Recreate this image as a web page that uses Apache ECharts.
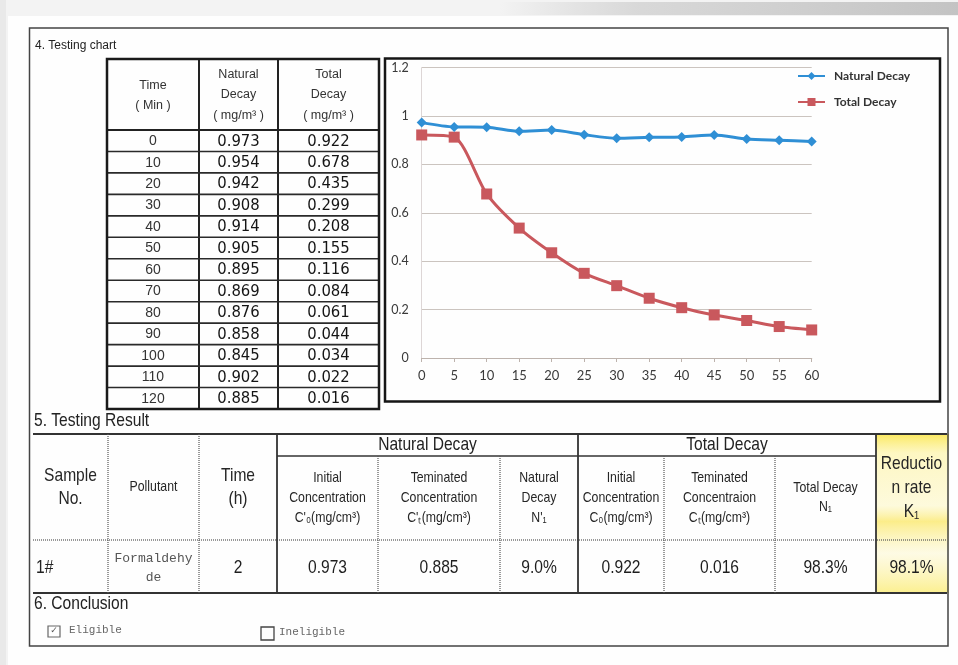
<!DOCTYPE html>
<html><head><meta charset="utf-8">
<script src="https://cdn.jsdelivr.net/npm/echarts@6/dist/echarts.min.js"></script>
<style>html,body{margin:0;padding:0;background:#f4f4f4}#c{width:958px;height:665px}</style>
</head><body><div id="c"></div><script>
// ---- chart data ----
const chartTimes = ['0','5','10','15','20','25','30','35','40','45','50','55','60'];
const chartNatural = [0.973,0.955,0.954,0.937,0.942,0.923,0.908,0.912,0.914,0.922,0.905,0.900,0.895];
const chartTotal = [0.922,0.913,0.678,0.537,0.435,0.350,0.299,0.247,0.208,0.178,0.155,0.130,0.116];
const seriesNames = ['Natural Decay','Total Decay'];
// ---- left table data ----
const tableTimes = ['0','10','20','30','40','50','60','70','80','90','100','110','120'];
const tableNatural = ['0.973','0.954','0.942','0.908','0.914','0.905','0.895','0.869','0.876','0.858','0.845','0.902','0.885'];
const tableTotal = ['0.922','0.678','0.435','0.299','0.208','0.155','0.116','0.084','0.061','0.044','0.034','0.022','0.016'];
const tableHeaders = [['Time','( Min )'],['Natural','Decay','( mg/m³ )'],['Total','Decay','( mg/m³ )']];
// ---- result table data ----
const resultGroups = ['Natural Decay','Total Decay'];
const resultHeaders = [['Sample','No.'],['Pollutant'],['Time','(h)'],
  ['Initial','Concentration',"C'₀(mg/cm³)"],['Teminated','Concentration',"C'ₜ(mg/cm³)"],['Natural','Decay',"N'₁"],
  ['Initial','Concentration','C₀(mg/cm³)'],['Teminated','Concentraion','Cₜ(mg/cm³)'],['Total Decay','N₁'],
  ['Reductio','n rate','K₁']];
const resultRow = ['1#','Formaldehy\nde','2','0.973','0.885','9.0%','0.922','0.016','98.3%','98.1%'];
const titles = ['4. Testing chart','5. Testing Result','6. Conclusion'];
const conclusionOptions = ['Eligible','Ineligible'];

const ARIAL = "'Liberation Sans',Arial,sans-serif";
const SERIFM = "'Liberation Mono','DejaVu Sans Mono',monospace";
const G = [];
function T(x,y,text,size,o){o=o||{};G.push({type:'text',x:x,y:y,z:o.z||10,scaleX:o.narrow?0.82:1,
  style:{text:text,fontSize:size,fontFamily:o.font||ARIAL,fontWeight:o.weight||'normal',fill:o.color||'#222',
  align:o.align||'center',verticalAlign:'middle',textAlign:o.align||'center',textVerticalAlign:'middle',lineHeight:o.lh||Math.round(size*1.25)}});}
function L(x1,y1,x2,y2,w,o){o=o||{};G.push({type:'line',z:o.z||5,shape:{x1:x1,y1:y1,x2:x2,y2:y2},style:{stroke:o.color||'#222',lineWidth:w,lineDash:o.dash||null}});}
function R(x,y,w,h,o){G.push({type:'rect',z:o.z||1,shape:{x:x,y:y,width:w,height:h},style:{fill:o.fill||'none',stroke:o.stroke||null,lineWidth:o.lw||1}});}

// paper + scan shadow
R(0,0,958,665,{fill:'#f3f3f3',z:-5});
R(8,16,950,649,{fill:'#fefefe',z:-4});
G.push({type:'rect',z:-3,shape:{x:500,y:2,width:458,height:13},style:{fill:new echarts.graphic.LinearGradient(0,0,1,0,[{offset:0,color:'rgba(200,200,200,0)'},{offset:0.3,color:'rgba(205,205,205,0.7)'},{offset:1,color:'rgba(190,190,190,0.9)'}])}});
R(0,0,6,665,{fill:'#e9e9e9',z:-3});
// outer frame
R(29.5,28,918.5,618,{stroke:'#444',lw:1.5,z:2});

// titles
T(35,46,titles[0],12,{align:'left'});
T(34,421,titles[1],19,{align:'left',narrow:true});
T(34,604,titles[2],19,{align:'left',narrow:true});

// ---- left table ----
const tx=[107,199,278,379], tTop=59, tHead=130, tBot=409;
const rowH=(tBot-tHead)/tableTimes.length;
R(tx[0],tTop,tx[3]-tx[0],tBot-tTop,{stroke:'#1a1a1a',lw:2.5,z:6});
L(tx[1],tTop,tx[1],tBot,2);
L(tx[2],tTop,tx[2],tBot,2);
L(tx[0],tHead,tx[3],tHead,2);
for(let i=1;i<tableTimes.length;i++){L(tx[0],tHead+i*rowH,tx[3],tHead+i*rowH,1.6,{color:'#2a2a2a'});}
const hdrY=[[86,106],[75,95,116],[75,95,116]];
tableHeaders.forEach((h,c)=>{const cx=(tx[c]+tx[c+1])/2;h.forEach((s,k)=>T(cx,hdrY[c][k],s,12.5,{color:'#333'}));});
tableTimes.forEach((t,i)=>{const cy=tHead+(i+0.5)*rowH+0.5;
  T((tx[0]+tx[1])/2,cy,t,14,{color:'#333'});
  T((tx[1]+tx[2])/2,cy,tableNatural[i],16.5,{font:"'DejaVu Sans Condensed','DejaVu Sans',sans-serif",color:'#151515'});
  T((tx[2]+tx[3])/2,cy,tableTotal[i],16.5,{font:"'DejaVu Sans Condensed','DejaVu Sans',sans-serif",color:'#151515'});
});

// chart box
R(385,58.5,555,343,{stroke:'#151515',lw:2.5,z:6});

// ---- result table ----
const rx=[33,108,199,277,378,500,578,664,775,876,947];
const rTop=434, rSub=456, rHead=540, rBot=593;
// highlight
G.push({type:'rect',z:0,shape:{x:876,y:434,width:73,height:159},style:{fill:new echarts.graphic.LinearGradient(0,0,0,1,[{offset:0,color:'rgba(250,225,40,0.75)'},{offset:0.12,color:'rgba(252,238,120,0.45)'},{offset:0.45,color:'rgba(252,240,140,0.3)'},{offset:0.55,color:'rgba(250,225,60,0.6)'},{offset:0.75,color:'rgba(252,240,150,0.25)'},{offset:1,color:'rgba(250,230,70,0.6)'}])}});
L(rx[0],rTop,rx[10],rTop,2,{color:'#333'});
L(rx[0],rBot,rx[10],rBot,2,{color:'#333'});
L(rx[3],rSub,rx[9],rSub,1.6,{color:'#333'});
L(rx[0],rHead,rx[10],rHead,1.2,{color:'#555',dash:[1,1]});
[1,2].forEach(i=>L(rx[i],rTop,rx[i],rBot,1.2,{color:'#555',dash:[1,1]}));
[3,6,9].forEach(i=>L(rx[i],rTop,rx[i],rBot,1.8,{color:'#333'}));
[4,5,7,8].forEach(i=>L(rx[i],rSub,rx[i],rBot,1.2,{color:'#555',dash:[1,1]}));
T((rx[3]+rx[6])/2,445,resultGroups[0],19,{narrow:true});
T((rx[6]+rx[9])/2,445,resultGroups[1],19,{narrow:true});
resultHeaders.forEach((h,c)=>{
  const cx=(rx[c]+rx[c+1])/2;
  let size=15, lh=20, cy=498;
  if(c===0||c===2){size=19;lh=23;cy=487;}
  if(c===1){cy=487;}
  if(c===8){lh=19;cy=497;}
  if(c===9){size=19;lh=24;cy=488;}
  T(cx,cy,h.join('\n'),size,{narrow:true,lh:lh,color:'#262626'});
});
resultRow.forEach((v,c)=>{
  const cx=(rx[c]+rx[c+1])/2;
  if(c===0){T(36,568,v,19,{narrow:true,align:'left'});}
  else if(c===1){T(cx,568,v,13,{font:SERIFM,lh:19,color:'#555'});}
  else T(cx,568,v,19,{narrow:true,color:'#1e1e1e'});
});
// conclusion
R(48,626,12,11,{stroke:'#666',lw:1.2,z:5});
T(54,630.5,'✓',9,{color:'#555',font:"'DejaVu Sans',sans-serif"});
T(69,630,conclusionOptions[0],11,{font:SERIFM,align:'left',color:'#666'});
R(261,627,13,13,{stroke:'#444',lw:1.3,z:5});
T(279,632,conclusionOptions[1],11,{font:SERIFM,align:'left',color:'#666'});

const chart = echarts.init(document.getElementById('c'),null,{renderer:'canvas'});
const axisFont = "Lato,'Open Sans',sans-serif";
chart.setOption({
  backgroundColor:'transparent',
  animation:false,
  graphic:{elements:G},
  grid:{left:421.7,right:958-811.7,top:67.7,bottom:665-358,containLabel:false},
  legend:{orient:'vertical',left:797,top:70,itemWidth:27,itemHeight:10,itemGap:14,padding:0,
    textStyle:{fontSize:12,fontWeight:'bold',fontFamily:axisFont,color:'#333',padding:[0,0,0,4]},data:seriesNames},
  xAxis:{type:'category',data:chartTimes,boundaryGap:false,
    axisLine:{lineStyle:{color:'#bdb3ad',width:1.2}},
    axisTick:{show:true,length:4,alignWithLabel:true,lineStyle:{color:'#bdb3ad'}},
    axisLabel:{fontSize:13,fontFamily:axisFont,color:'#3a3a3a',margin:11}},
  yAxis:{type:'value',min:0,max:1.2,interval:0.2,
    axisLine:{show:true,lineStyle:{color:'#ddd6d6',width:1}},
    axisTick:{show:false},
    splitLine:{lineStyle:{color:'#cbc4bf',width:1}},
    axisLabel:{fontSize:12.5,fontFamily:axisFont,color:'#3a3a3a',margin:13,formatter:v=>String(parseFloat(v.toFixed(1)))}},
  series:[
    {name:seriesNames[0],type:'line',data:chartNatural,smooth:0.25,symbol:'diamond',symbolSize:10,
      itemStyle:{color:'#2f8fd5'},lineStyle:{color:'#2f8fd5',width:3},z:4},
    {name:seriesNames[1],type:'line',data:chartTotal,smooth:0.25,symbol:'rect',symbolSize:11,
      itemStyle:{color:'#c9585d'},lineStyle:{color:'#c9585d',width:3},z:3}
  ]
});
</script></body></html>
